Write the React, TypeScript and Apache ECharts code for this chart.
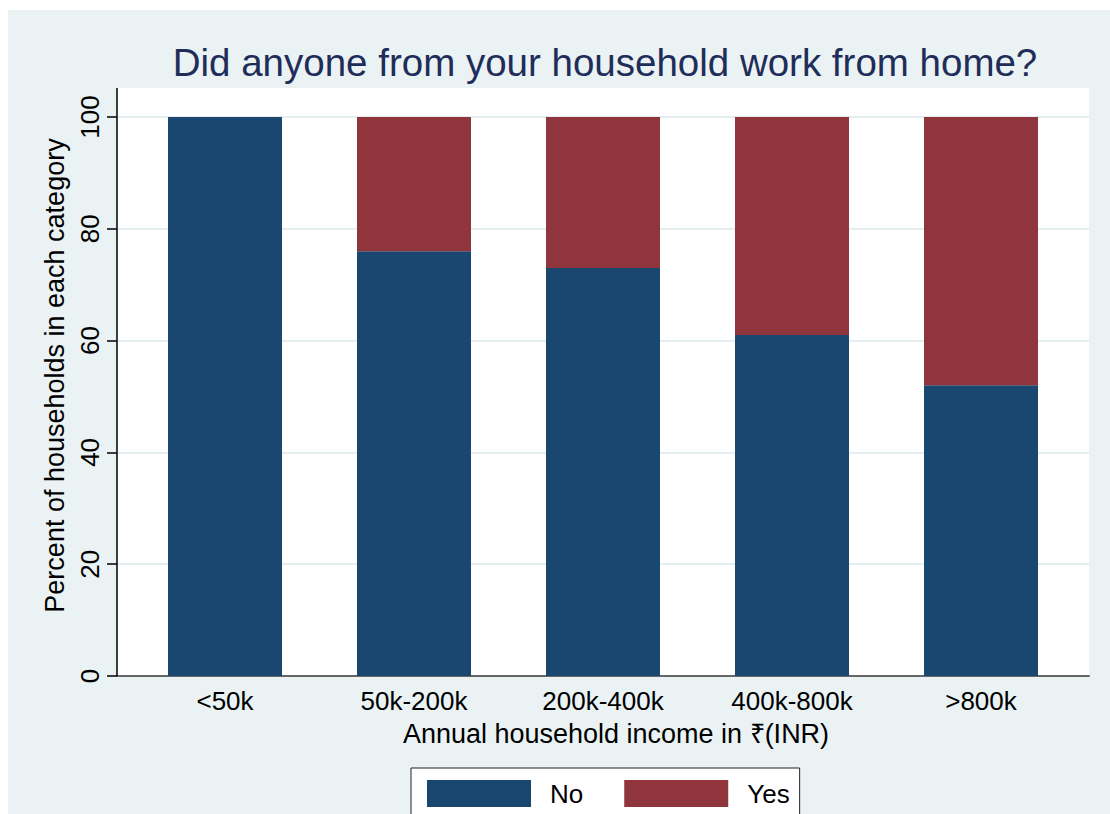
import React, { useEffect, useRef } from 'react';
import * as echarts from 'echarts';

const categories = ['<50k', '50k-200k', '200k-400k', '400k-800k', '>800k'];
const noValues = [100, 76, 73, 61, 52];
const yesValues = [0, 24, 27, 39, 48];
const seriesNames = ['No', 'Yes'];
const titleText = 'Did anyone from your household work from home?';
const xTitle = 'Annual household income in ₹(INR)';
const yTitle = 'Percent of households in each category';

const FONT = "'Liberation Sans', Arial, sans-serif";
const NAVY = '#1a476f';
const RED = '#90353b';

export default function App() {
  const ref = useRef<HTMLDivElement>(null);
  useEffect(() => {
    if (!ref.current) return;
    const chart = echarts.init(ref.current, undefined, { renderer: 'svg' });
    chart.setOption({
      animation: false,
      backgroundColor: '#eaf2f3',
      textStyle: { fontFamily: FONT },
      title: {
        text: titleText,
        left: 597,
        top: 33,
        padding: 0,
        textAlign: 'center',
        textStyle: { fontFamily: FONT, fontSize: 38.5, fontWeight: 'normal', color: '#1f2d5a' },
      },
      legend: {
        data: seriesNames,
        left: 403,
        top: 758,
        orient: 'horizontal',
        padding: [12, 10, 12, 16],
        itemWidth: 104,
        itemHeight: 27,
        itemGap: 41,
        icon: 'rect',
        backgroundColor: '#ffffff',
        borderColor: '#222222',
        borderWidth: 1,
        borderRadius: 0,
        textStyle: { fontFamily: FONT, fontSize: 26, color: '#000', padding: [0, 0, 0, 14] },
      },
      graphic: [
        { type: 'rect', z: -10, shape: { x: 109, y: 78, width: 972, height: 588 }, style: { fill: '#ffffff' }, silent: true },
        { type: 'line', z: 10, shape: { x1: 109, y1: 78, x2: 109, y2: 666 }, style: { stroke: '#000000', lineWidth: 1.5 }, silent: true },
      ],
      grid: [
        { left: 109, top: 107, width: 972, height: 559, containLabel: false },
        { left: 122.5, top: 107, width: 945, height: 559, containLabel: false },
      ],
      xAxis: [
        {
          gridIndex: 0,
          type: 'value',
          min: 0,
          max: 1,
          axisLine: { show: true, onZero: false, lineStyle: { color: '#666666', width: 2 } },
          axisTick: { show: false },
          axisLabel: { show: false },
          splitLine: { show: false },
        },
        {
          gridIndex: 1,
          type: 'category',
          data: categories,
          axisLine: { show: false },
          axisTick: { show: false },
          axisLabel: { fontFamily: FONT, fontSize: 26, color: '#000', margin: 12 },
          name: xTitle,
          nameLocation: 'middle',
          nameGap: 44,
          nameTextStyle: { fontFamily: FONT, fontSize: 27, color: '#000', padding: [0, 0, 0, 26] },
        },
      ],
      yAxis: [
        {
          gridIndex: 0,
          type: 'value',
          min: 0,
          max: 100,
          interval: 20,
          axisLine: { show: false },
          axisTick: { show: true, length: 10, lineStyle: { color: '#000', width: 1.5 } },
          axisLabel: { fontFamily: FONT, fontSize: 26, color: '#000', rotate: 90, margin: 14 },
          splitLine: { show: true, lineStyle: { color: '#e4edf0', width: 2 } },
          name: yTitle,
          nameLocation: 'middle',
          nameRotate: 90,
          nameGap: 49,
          nameTextStyle: { fontFamily: FONT, fontSize: 27, color: '#000', padding: [0, 0, 0, 42] },
        },
        {
          gridIndex: 1,
          type: 'value',
          min: 0,
          max: 100,
          show: false,
          splitLine: { show: false },
        },
      ],
      series: [
        {
          name: seriesNames[0],
          type: 'bar',
          xAxisIndex: 1,
          yAxisIndex: 1,
          stack: 'total',
          barWidth: 114,
          data: noValues,
          itemStyle: { color: NAVY },
        },
        {
          name: seriesNames[1],
          type: 'bar',
          xAxisIndex: 1,
          yAxisIndex: 1,
          stack: 'total',
          barWidth: 114,
          data: yesValues,
          itemStyle: { color: RED },
        },
      ],
    });
    return () => chart.dispose();
  }, []);
  return <div ref={ref} style={{ position: 'absolute', left: 8, top: 10, width: 1102, height: 804 }} />;
}
